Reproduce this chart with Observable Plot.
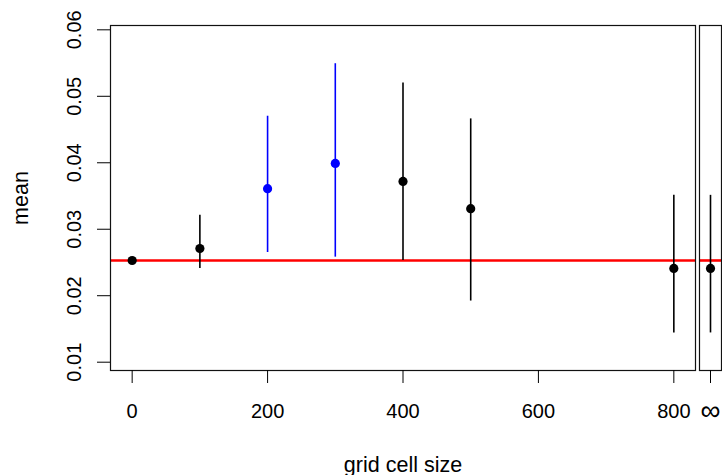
<!DOCTYPE html>
<html>
<head>
<meta charset="utf-8">
<script src="https://cdn.jsdelivr.net/npm/d3@7"></script>
<script src="https://cdn.jsdelivr.net/npm/@observablehq/plot@0.6"></script>
<style>
  html, body { margin: 0; padding: 0; background: white; }
  #chart { position: relative; width: 722px; height: 475px; }
</style>
</head>
<body>
<div id="chart"></div>
<script>
// ---- data ----
const sizes  = [0, 100, 200, 300, 400, 500, 800];
const means  = [0.0253, 0.0271, 0.0361, 0.0399, 0.0372, 0.0331, 0.0241];
const lower  = [0.0253, 0.0241, 0.0265, 0.0258, 0.0253, 0.0192, 0.0144];
const upper  = [0.0253, 0.0321, 0.0470, 0.0549, 0.0520, 0.0466, 0.0351];
const highlighted = [false, false, true, true, false, false, false];

const infLabel = ["∞"];
const infMean  = [0.0241];
const infLower = [0.0144];
const infUpper = [0.0351];

const baseline = 0.0253;

const xTicks = [0, 200, 400, 600, 800];
const yTicks = [0.01, 0.02, 0.03, 0.04, 0.05, 0.06];
const xLabel = "grid cell size";
const yLabel = "mean";

// ---- tables ----
const rows = sizes.map((s, i) => ({
  size: s, mean: means[i], lo: lower[i], hi: upper[i],
  col: highlighted[i] ? "#0000FF" : "#000000"
}));
const infRows = infLabel.map((k, i) => ({
  key: k, mean: infMean[i], lo: infLower[i], hi: infUpper[i], col: "#000000"
}));

const W = 722, H = 475;
const yDomain = [0.00875, 0.06065];
const font = "'Liberation Sans', Arial, Helvetica, sans-serif";

const main = Plot.plot({
  width: W, height: H,
  marginLeft: 110, marginRight: 27, marginTop: 25, marginBottom: 105,
  style: {fontSize: "20px", fontFamily: font, background: "white", color: "black", maxWidth: "none"},
  x: {type: "linear", domain: [-32, 832]},
  y: {domain: yDomain},
  color: {type: "identity"},
  marks: [
    Plot.ruleY([baseline], {stroke: "#FF0000", strokeWidth: 2.6}),
    Plot.ruleX(rows, {x: "size", y1: "lo", y2: "hi", stroke: "col", strokeWidth: 1.6}),
    Plot.dot(rows, {x: "size", y: "mean", r: 4.6, fill: "col", stroke: null}),
    Plot.frame({stroke: "#111", strokeWidth: 1.2}),
    Plot.axisX({ticks: xTicks, tickSize: 13, tickPadding: 20, label: null, tickFormat: d3.format("d")}),
    Plot.axisY({ticks: yTicks, tickSize: 13, tickPadding: 17, tickRotate: -90, label: null, tickFormat: d3.format(".2f")}),
    Plot.text([xLabel], {frameAnchor: "bottom", dy: 101, lineAnchor: "bottom", textAnchor: "middle", fontSize: 21.5}),
    Plot.text([yLabel], {frameAnchor: "left", dx: -83, rotate: -90, lineAnchor: "bottom", textAnchor: "middle", fontSize: 21.5})
  ]
});

const inf = Plot.plot({
  width: W, height: H,
  marginLeft: 699, marginRight: 1, marginTop: 25, marginBottom: 105,
  style: {fontSize: "20px", fontFamily: font, background: "transparent", position: "absolute", left: "0px", top: "0px", maxWidth: "none"},
  x: {type: "point", domain: infLabel},
  y: {domain: yDomain, axis: null},
  color: {type: "identity"},
  marks: [
    Plot.ruleY([baseline], {stroke: "#FF0000", strokeWidth: 2.6}),
    Plot.ruleX(infRows, {x: "key", y1: "lo", y2: "hi", stroke: "col", strokeWidth: 1.6}),
    Plot.dot(infRows, {x: "key", y: "mean", r: 4.6, fill: "col", stroke: null}),
    Plot.frame({stroke: "#111", strokeWidth: 1.2}),
    Plot.axisX({tickSize: 13, tickPadding: 17, label: null, fontSize: 28})
  ]
});

const el = document.getElementById("chart");
el.appendChild(main);
el.appendChild(inf);
</script>
</body>
</html>
